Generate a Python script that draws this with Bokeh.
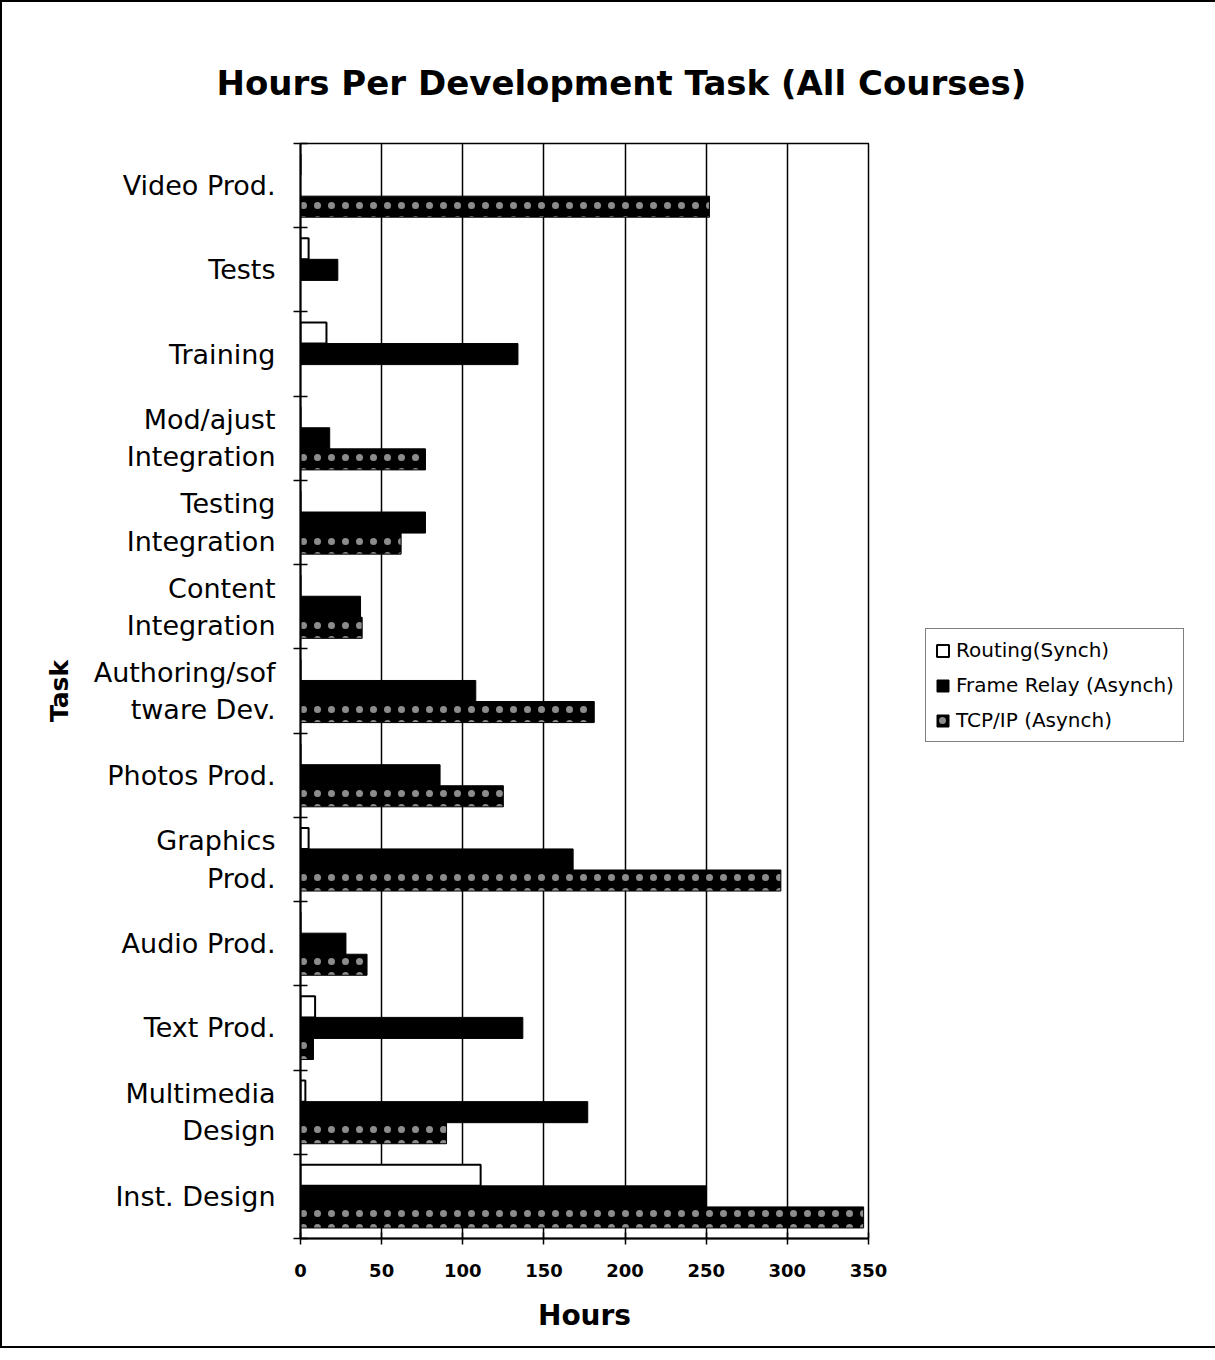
from bokeh.plotting import figure
from bokeh.models import (ColumnDataSource, Range1d, FixedTicker, Legend, LegendItem)
from bokeh.transform import dodge
from bokeh.embed import file_html
from bokeh.resources import INLINE

# ---- data (bottom category first, as in the chart) ----
tasks = ["Inst. Design", "Multimedia\nDesign", "Text Prod.", "Audio Prod.",
         "Graphics\nProd.", "Photos Prod.", "Authoring/sof\ntware Dev.",
         "Content\nIntegration", "Testing\nIntegration", "Mod/ajust\nIntegration",
         "Training", "Tests", "Video Prod."]
routing = [111, 3, 9, 0, 5, 0, 0, 0, 0, 0, 16, 5, 0]
frame_relay = [250, 177, 137, 28, 168, 86, 108, 37, 77, 18, 134, 23, 0]
tcp_ip = [347, 90, 8, 41, 296, 125, 181, 38, 62, 77, 0, 0, 252]
series_names = ["Routing(Synch)", "Frame Relay (Asynch)", "TCP/IP (Asynch)"]
x_ticks = [0, 50, 100, 150, 200, 250, 300, 350]

centers = [i + 0.5 for i in range(len(tasks))]
bounds = list(range(len(tasks) + 1))

src = ColumnDataSource(dict(y=centers, routing=routing, fr=frame_relay, tcp=tcp_ip))

FONT = "DejaVu Sans"

p = figure(frame_width=568, frame_height=1095,
           min_border_left=298, min_border_top=141, min_border_bottom=108,
           min_border_right=329,
           x_range=Range1d(0, 350), y_range=Range1d(0, len(tasks)),
           output_backend="svg", toolbar_location=None,
           background_fill_color="white", border_fill_color="white")
p.styles = {"border": "2px solid black"}

bar_h = 0.25
r1 = p.hbar(y=dodge("y", 0.25), right="routing", left=0, height=bar_h, source=src,
            fill_color="white", line_color="black", line_width=2)
r2 = p.hbar(y=dodge("y", 0.0), right="fr", left=0, height=bar_h, source=src,
            fill_color="black", line_color="black", line_width=1)
r3 = p.hbar(y=dodge("y", -0.25), right="tcp", left=0, height=bar_h, source=src,
            fill_color="black", line_color="black", line_width=1,
            hatch_pattern="dot", hatch_color="white", hatch_scale=14,
            hatch_weight=1.0, hatch_alpha=0.55)

# title
p.title.text = "Hours Per Development Task (All Courses)"
p.title.align = "left"
p.title.offset = -84
p.title.standoff = 82
p.title.text_font = FONT
p.title.text_font_size = "34px"
p.title.text_font_style = "bold"
p.title.text_color = "black"

# x axis
xa = p.xaxis[0]
xa.ticker = FixedTicker(ticks=x_ticks)
xa.axis_label = "Hours"
xa.axis_label_text_font = FONT
xa.axis_label_text_font_size = "28px"
xa.axis_label_text_font_style = "bold"
xa.axis_label_text_color = "black"
xa.axis_label_standoff = 19
xa.major_label_text_font = FONT
xa.major_label_text_font_size = "18px"
xa.major_label_text_font_style = "bold"
xa.major_label_text_color = "black"
xa.major_label_standoff = 19
xa.major_tick_in = 6
xa.major_tick_out = 6
xa.major_tick_line_width = 1.5
xa.minor_tick_line_color = None
xa.axis_line_width = 2
xa.axis_line_color = "black"

# y axis
ya = p.yaxis[0]
ya.ticker = FixedTicker(ticks=centers, minor_ticks=bounds)
ya.major_label_overrides = {c: t for c, t in zip(centers, tasks)}
ya.major_tick_in = 0
ya.major_tick_out = 0
ya.minor_tick_in = 7
ya.minor_tick_out = 7
ya.minor_tick_line_width = 1.5
ya.minor_tick_line_color = "black"
ya.major_label_text_font = FONT
ya.major_label_text_font_size = "27px"
ya.major_label_text_color = "black"
ya.major_label_standoff = 18
ya.axis_label = "Task"
ya.axis_label_text_font = FONT
ya.axis_label_text_font_size = "25px"
ya.axis_label_text_font_style = "bold"
ya.axis_label_text_color = "black"
ya.axis_label_standoff = 17
ya.axis_line_width = 2
ya.axis_line_color = "black"

# grid
p.xgrid.grid_line_color = "black"
p.xgrid.grid_line_width = 1.5
p.xgrid.ticker = FixedTicker(ticks=x_ticks)
p.ygrid.grid_line_color = None

p.outline_line_color = "black"
p.outline_line_width = 1.5
p.outline_line_alpha = 1

legend = Legend(items=[LegendItem(label=series_names[0], renderers=[r1]),
                       LegendItem(label=series_names[1], renderers=[r2]),
                       LegendItem(label=series_names[2], renderers=[r3])],
                location=(57, 496))
legend.border_line_color = "black"
legend.border_line_width = 1.2
legend.background_fill_color = "white"
legend.background_fill_alpha = 1
legend.padding = 9
legend.spacing = 11
legend.glyph_width = 15
legend.glyph_height = 15
legend.label_standoff = 6
legend.label_height = 20
legend.label_text_font = FONT
legend.label_text_font_size = "20px"
legend.label_text_color = "black"
legend.margin = 0
p.add_layout(legend, "right")

open("out.html", "w").write(file_html(p, INLINE))
